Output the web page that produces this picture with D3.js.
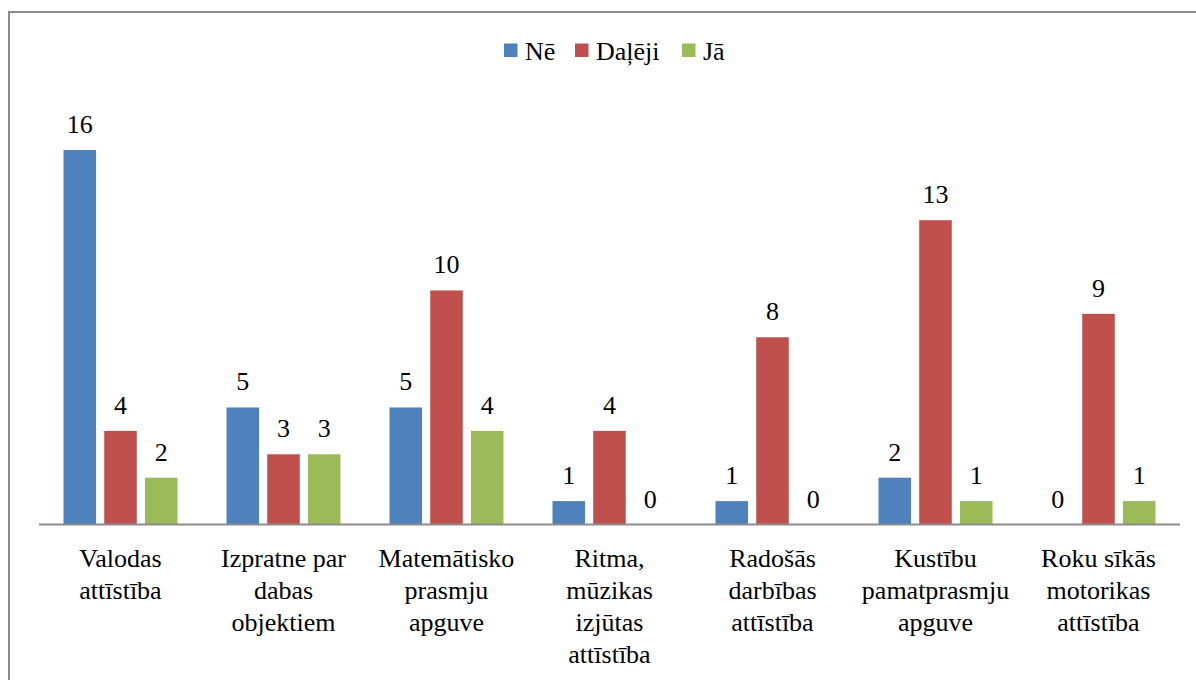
<!DOCTYPE html>
<html>
<head>
<meta charset="utf-8">
<script src="https://cdn.jsdelivr.net/npm/d3@7"></script>
<style>
  body { margin: 0; background: #fff; }
</style>
</head>
<body>
<div id="container"></div>
<script>
// categories, each split into its printed lines
const categories = [
  ["Valodas", "attīstība"],
  ["Izpratne par", "dabas", "objektiem"],
  ["Matemātisko", "prasmju", "apguve"],
  ["Ritma,", "mūzikas", "izjūtas", "attīstība"],
  ["Radošās", "darbības", "attīstība"],
  ["Kustību", "pamatprasmju", "apguve"],
  ["Roku sīkās", "motorikas", "attīstība"]
];
const seriesNames = ["Nē", "Daļēji", "Jā"];
const colors = ["#4F81BD", "#C0504D", "#9BBB59"];

const ne = [16, 5, 5, 1, 1, 2, 0];
const daleji = [4, 3, 10, 4, 8, 13, 9];
const ja = [2, 3, 4, 0, 0, 1, 1];
const values = [ne, daleji, ja];

const width = 1196, height = 680;
const fontFam = "'Liberation Serif', 'Times New Roman', Times, 'DejaVu Serif', serif";
const baseline = 524.5;

const svg = d3.select("#container").append("svg")
  .attr("width", width).attr("height", height)
  .attr("font-family", fontFam);

// outer frame (right and bottom edges run past the picture)
svg.append("rect")
  .attr("x", 9).attr("y", 12)
  .attr("width", 1200).attr("height", 700)
  .attr("fill", "none").attr("stroke", "#8c8c8c").attr("stroke-width", 2);

const idx = d3.range(categories.length);

const x0 = d3.scaleBand().domain(idx).range([39, 1180]);
const x1 = d3.scaleBand().domain(d3.range(seriesNames.length))
  .range([24.5, 138.5]).paddingInner(0.2);
const y = d3.scaleLinear().domain([0, 16]).range([baseline, 150]);

const groups = svg.selectAll(".group")
  .data(idx).enter().append("g")
  .attr("class", "group")
  .attr("transform", i => `translate(${x0(i)},0)`);

groups.selectAll("rect")
  .data(i => values.map((s, k) => ({ k, v: s[i] })))
  .enter().append("rect")
  .attr("x", d => x1(d.k))
  .attr("width", x1.bandwidth())
  .attr("y", d => y(d.v))
  .attr("height", d => y(0) - y(d.v))
  .attr("fill", d => colors[d.k]);

groups.selectAll(".val")
  .data(i => values.map((s, k) => ({ k, v: s[i] })))
  .enter().append("text")
  .attr("class", "val")
  .attr("x", d => x1(d.k) + x1.bandwidth() / 2)
  .attr("y", d => y(d.v) - 17)
  .attr("text-anchor", "middle")
  .attr("font-size", 26)
  .text(d => d.v);

// baseline
svg.append("line")
  .attr("x1", x0.range()[0]).attr("x2", x0.range()[1])
  .attr("y1", y(0)).attr("y2", y(0))
  .attr("stroke", "#8c8c8c").attr("stroke-width", 2);

// category labels
groups.append("text")
  .attr("text-anchor", "middle")
  .attr("font-size", 26)
  .selectAll("tspan")
  .data(i => categories[i])
  .enter().append("tspan")
  .attr("x", x0.bandwidth() / 2)
  .attr("y", (d, j) => 567 + j * 32)
  .text(d => d);

// legend
const legendX = [504, 575, 682];
const legend = svg.selectAll(".legend")
  .data(seriesNames).enter().append("g")
  .attr("class", "legend")
  .attr("transform", (d, i) => `translate(${legendX[i]},43.5)`);
legend.append("rect")
  .attr("width", 13.5).attr("height", 13.5)
  .attr("fill", (d, i) => colors[i]);
legend.append("text")
  .attr("x", 21).attr("y", 16)
  .attr("font-size", 26)
  .text(d => d);
</script>
</body>
</html>
